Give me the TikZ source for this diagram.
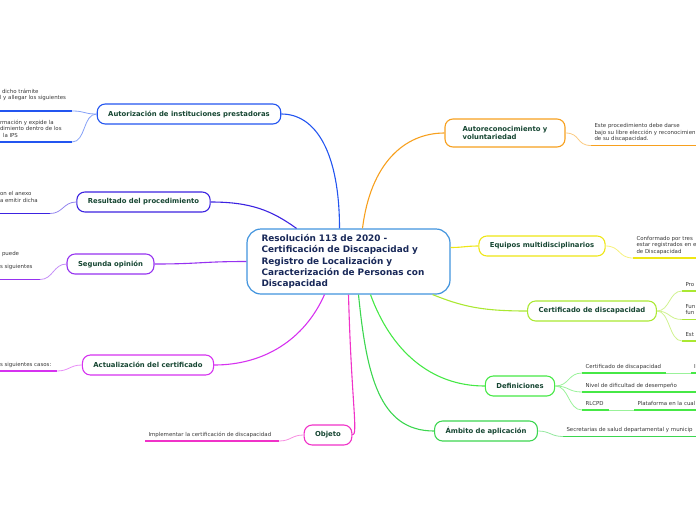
\documentclass[tikz,border=0pt]{standalone}
\usepackage{fontspec}
\setmainfont{DejaVu Sans}
\usetikzlibrary{positioning}
\definecolor{CtrBlue}{RGB}{66,148,222}
\definecolor{CtrText}{RGB}{24,40,88}
\definecolor{TopicText}{RGB}{22,70,50}
\definecolor{LeafGray}{RGB}{55,55,55}
\definecolor{BrOrange}{RGB}{247,160,30}
\definecolor{BrYellow}{RGB}{238,230,20}
\definecolor{BrLime}{RGB}{170,232,50}
\definecolor{BrGreen}{RGB}{70,232,70}
\definecolor{BrGreenB}{RGB}{60,214,80}
\definecolor{BrPink}{RGB}{240,50,200}
\definecolor{BrMagenta}{RGB}{214,50,240}
\definecolor{BrViolet}{RGB}{150,50,240}
\definecolor{BrIndigo}{RGB}{60,35,225}
\definecolor{BrBlue}{RGB}{35,85,240}
\newcommand{\leaffont}{\fontsize{5.45}{6.3}\selectfont}
\newcommand{\topicfont}{\bfseries\fontsize{6.85}{8.4}\selectfont}

\begin{document}
\begin{tikzpicture}[x=1pt,y=-1pt,
  topic/.style={draw=#1, line width=1.1pt, rounded corners=8pt, fill=white,
    font=\topicfont, text=TopicText, align=left, inner xsep=11pt, minimum height=20pt},
  leaf/.style={anchor=south west, font=\leaffont, text=LeafGray, align=left,
    inner xsep=3.5pt, inner ysep=3.5pt, text depth=1.5pt, outer sep=0pt},
  branch/.style={draw=#1, line width=1.1pt},
  twig/.style={draw=#1!55, line width=0.8pt},
  uline/.style={draw=#1, line width=1.6pt}]
\useasboundingbox (0,0) rectangle (696,520);
\clip (0,0) rectangle (696,520);

% centre
\node[draw=CtrBlue, line width=1.2pt, rounded corners=14pt, fill=white, text=CtrText,
  font=\bfseries\fontsize{8.9}{11.3}\selectfont, align=left, text width=174pt,
  inner xsep=14.5pt, minimum height=65pt] (ctr) at (348.5,261.5)
  {Resolución 113 de 2020 -\\Certificación de Discapacidad y\\Registro de Localización y\\Caracterización de Personas con\\Discapacidad};

% right side topics
\node[topic=BrOrange, minimum width=120pt, minimum height=28pt] (auto) at (505,133) {Autoreconocimiento y\\voluntariedad};
\node[topic=BrYellow] (equ) at (542,246) {Equipos multidisciplinarios};
\node[topic=BrLime] (cert) at (592,311) {Certificado de discapacidad};
\node[topic=BrGreen] (def) at (520,386) {Definiciones};
\node[topic=BrGreenB] (amb) at (486,431) {Ámbito de aplicación};
% left side topics
\node[topic=BrPink] (obj) at (328,435) {Objeto};
\node[topic=BrMagenta] (act) at (148,365) {Actualización del certificado};
\node[topic=BrViolet] (seg) at (110.5,264) {Segunda opinión};
\node[topic=BrIndigo] (res) at (143.5,202) {Resultado del procedimiento};
\node[topic=BrBlue] (autz) at (189,114) {Autorización de instituciones prestadoras};

% branches
\draw[branch=BrOrange] ([xshift=14pt]ctr.north) .. controls +(8,-65) and +(-40,0) .. (auto.west);
\draw[branch=BrYellow] ([yshift=14pt]ctr.east) .. controls +(12,0) and +(-12,0) .. (equ.west);
\draw[branch=BrLime] ([xshift=-18pt]ctr.south east) .. controls +(30,12) and +(-45,0) .. (cert.west);
\draw[branch=BrGreen] ([xshift=22pt]ctr.south) .. controls +(20,55) and +(-55,0) .. (def.west);
\draw[branch=BrGreenB] ([xshift=10pt]ctr.south) .. controls +(8,80) and +(-55,0) .. (amb.west);
\draw[branch=BrPink] (ctr.south) .. controls +(3,110) and +(6,0) .. (obj.east);
\draw[branch=BrMagenta] ([xshift=-24pt]ctr.south) .. controls +(-20,45) and +(50,0) .. (act.east);
\draw[branch=BrViolet] (ctr.west) .. controls +(-45,0) and +(45,0) .. (seg.east);
\draw[branch=BrIndigo] ([xshift=-52pt]ctr.north) .. controls +(-25,-18) and +(40,0) .. (res.east);
\draw[branch=BrBlue] ([xshift=-9pt]ctr.north) .. controls +(0,-75) and +(35,0) .. (autz.east);

% leaves, right
\node[leaf] (auto1) at (591,145.5) {Este procedimiento debe darse\\bajo su libre elección y reconocimien\\de su discapacidad.};
\draw[uline=BrOrange] (auto1.south west) -- +(110,0);
\draw[twig=BrOrange] (auto.east) .. controls +(15,0) and +(-15,0) .. (auto1.south west);

\node[leaf] (equ1) at (633,258) {Conformado por tres\\estar registrados en e\\de Discapacidad};
\draw[uline=BrYellow] (equ1.south west) -- +(70,0);
\draw[twig=BrYellow] (equ.east) .. controls +(15,0) and +(-15,0) .. (equ1.south west);

\node[leaf] (cert1) at (682,291) {Pro};
\node[leaf] (cert2) at (682,319.5) {Fun\\fun};
\node[leaf] (cert3) at (682,341) {Est};
\foreach \n in {cert1,cert2,cert3}{
  \draw[uline=BrLime] (\n.south west) -- +(20,0);
  \draw[twig=BrLime] (cert.east) .. controls +(13,0) and +(-13,0) .. (\n.south west);
}

\node[leaf] (def1) at (582,373) {Certificado de discapacidad};
\node[leaf] (def2) at (582,392) {Nivel de dificultad de desempeño};
\node[leaf] (def3) at (582,410) {RLCPD};
\coordinate (def1e) at (666,373);
\coordinate (def3e) at (609,410);
\draw[uline=BrGreen] (def1.south west) -- (def1e);
\draw[uline=BrGreen] (def2.south west) -- +(120,0);
\draw[uline=BrGreen] (def3.south west) -- (def3e);
\foreach \n in {def1,def2,def3}
  \draw[twig=BrGreen] (def.east) .. controls +(14,0) and +(-14,0) .. (\n.south west);
\node[leaf] (def1a) at (690.5,373) {I};
\node[leaf] (def3a) at (634,410) {Plataforma en la cual};
\draw[uline=BrGreen] (def1a.south west) -- +(10,0);
\draw[uline=BrGreen] (def3a.south west) -- +(70,0);
\draw[twig=BrGreen] (def1e) .. controls +(12,0) and +(-12,0) .. (def1a.south west);
\draw[twig=BrGreen] (def3e) .. controls +(12,0) and +(-12,0) .. (def3a.south west);

\node[leaf] (amb1) at (563,436.5) {Secretarias de salud departamental y municip};
\draw[uline=BrGreenB] (amb1.south west) -- +(140,0);
\draw[twig=BrGreenB] (amb.east) .. controls +(12,0) and +(-12,0) .. (amb1.south west);

% leaves, left
\node[leaf] (obj1) at (145,441) {Implementar la certificación de discapacidad};
\coordinate (obj1e) at (279,441);
\draw[uline=BrPink] (obj1.south west) -- (obj1e);
\draw[twig=BrPink] (obj.west) .. controls +(-12,0) and +(12,0) .. (obj1e);

\node[leaf] (act1) at (-3.5,371) {s siguientes casos:};
\coordinate (act1e) at (57,371);
\draw[uline=BrMagenta] (act1.south west) -- (act1e);
\draw[twig=BrMagenta] (act.west) .. controls +(-12,0) and +(12,0) .. (act1e);

\node[leaf] (seg1) at (-3.5,279.5) {\hspace*{2pt}puede\\\mbox{}\\s siguientes\\\mbox{}};
\coordinate (seg1e) at (40,279.5);
\draw[uline=BrViolet] (seg1.south west) -- (seg1e);
\draw[twig=BrViolet] (seg.west) .. controls +(-13,0) and +(13,0) .. (seg1e);

\node[leaf] (res1) at (-3.5,213.5) {on el anexo\\a emitir dicha\\\mbox{}};
\coordinate (res1e) at (50,213.5);
\draw[uline=BrIndigo] (res1.south west) -- (res1e);
\draw[twig=BrIndigo] (res.west) .. controls +(-13,0) and +(13,0) .. (res1e);

\node[leaf] (autz1) at (-3.5,111) {\hspace*{2pt}dicho trámite\\l y allegar los siguientes\\\mbox{}};
\node[leaf] (autz2) at (-3.5,142) {rmación y expide la\\dimiento dentro de los\\\hspace*{3pt}la IPS};
\coordinate (autz1e) at (72,111);
\coordinate (autz2e) at (72,142);
\draw[uline=BrBlue] (autz1.south west) -- (autz1e);
\draw[uline=BrBlue] (autz2.south west) -- (autz2e);
\draw[twig=BrBlue] (autz.west) .. controls +(-14,0) and +(14,0) .. (autz1e);
\draw[twig=BrBlue] (autz.west) .. controls +(-14,0) and +(14,0) .. (autz2e);
\end{tikzpicture}
\end{document}
